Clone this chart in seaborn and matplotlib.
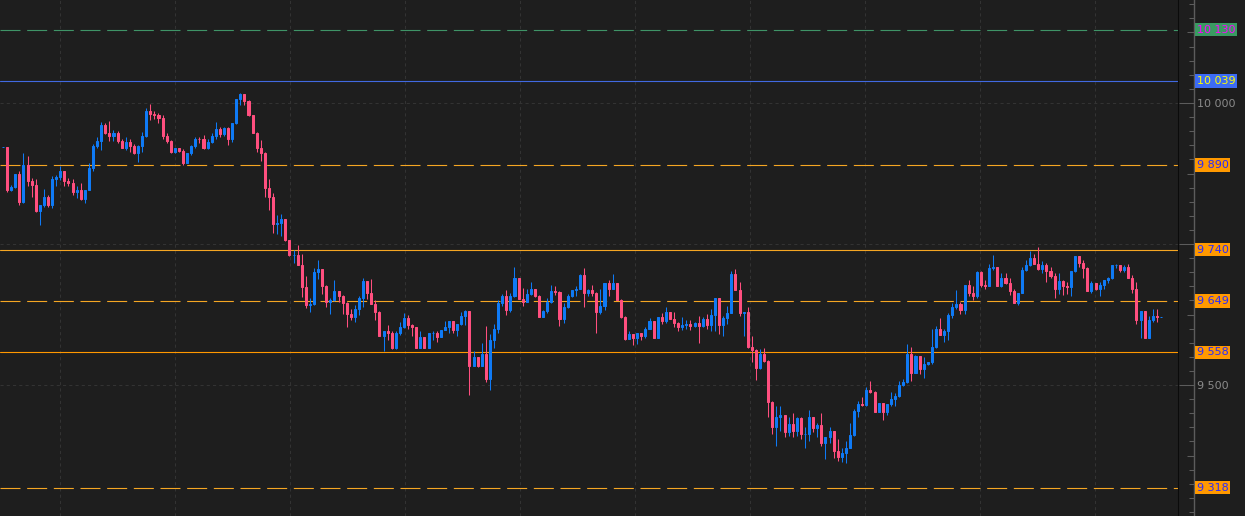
import numpy as np
import pandas as pd
import matplotlib
matplotlib.use("Agg")
import matplotlib.pyplot as plt
from matplotlib.ticker import MultipleLocator, FuncFormatter
import seaborn as sns

# candle data (open of each candle = previous close)
first_open = 9922
close = [9922, 9845, 9851, 9874, 9825, 9890, 9861, 9855, 9809, 9819,
         9834, 9819, 9865, 9868, 9880, 9862, 9858, 9843, 9846, 9829,
         9846, 9885, 9923, 9933, 9961, 9946, 9942, 9946, 9933, 9921,
         9930, 9923, 9912, 9923, 9942, 9986, 9981, 9978, 9973, 9942,
         9933, 9914, 9920, 9915, 9894, 9911, 9923, 9937, 9936, 9920,
         9931, 9942, 9954, 9945, 9955, 9936, 9964, 10007, 10016, 10004,
         9978, 9947, 9921, 9912, 9850, 9834, 9786, 9787, 9794, 9757,
         9731, 9731, 9713, 9674, 9641, 9643, 9700, 9706, 9676, 9648,
         9651, 9667, 9658, 9646, 9626, 9621, 9635, 9654, 9685, 9664,
         9644, 9630, 9587, 9595, 9593, 9565, 9593, 9603, 9619, 9606,
         9602, 9566, 9585, 9566, 9592, 9593, 9586, 9598, 9603, 9613,
         9597, 9608, 9622, 9631, 9534, 9550, 9534, 9555, 9511, 9580,
         9600, 9646, 9658, 9633, 9658, 9690, 9652, 9648, 9662, 9670,
         9658, 9621, 9631, 9648, 9667, 9665, 9617, 9638, 9658, 9668,
         9671, 9695, 9664, 9668, 9664, 9630, 9640, 9680, 9671, 9680,
         9651, 9621, 9582, 9590, 9583, 9592, 9587, 9600, 9613, 9584,
         9621, 9613, 9630, 9617, 9610, 9603, 9606, 9609, 9605, 9610,
         9605, 9617, 9606, 9624, 9654, 9606, 9619, 9628, 9697, 9668,
         9628, 9629, 9567, 9562, 9531, 9555, 9543, 9470, 9426, 9443,
         9446, 9417, 9431, 9419, 9442, 9414, 9414, 9443, 9423, 9429,
         9398, 9407, 9418, 9383, 9372, 9380, 9389, 9411, 9454, 9467,
         9465, 9492, 9488, 9453, 9468, 9453, 9466, 9476, 9481, 9500,
         9505, 9555, 9522, 9551, 9528, 9537, 9540, 9568, 9599, 9589,
         9596, 9624, 9639, 9644, 9633, 9677, 9663, 9657, 9700, 9677,
         9676, 9708, 9710, 9676, 9690, 9680, 9667, 9646, 9664, 9704,
         9713, 9726, 9715, 9705, 9713, 9703, 9693, 9670, 9684, 9676,
         9673, 9702, 9729, 9717, 9708, 9667, 9680, 9671, 9678, 9686,
         9690, 9713, 9713, 9704, 9709, 9690, 9670, 9615, 9631, 9584,
         9615, 9622, 9621, 9621]
high = [9922, 9922, 9855, 9875, 9880, 9911, 9906, 9867, 9865, 9819,
        9848, 9837, 9871, 9872, 9888, 9880, 9867, 9865, 9853, 9858,
        9846, 9893, 9927, 9940, 9966, 9965, 9968, 9952, 9951, 9936,
        9939, 9937, 9928, 9926, 9949, 9992, 9999, 9985, 9982, 9979,
        9946, 9934, 9921, 9920, 9918, 9912, 9926, 9939, 9940, 9943,
        9936, 9946, 9967, 9957, 9957, 9958, 9965, 10007, 10017, 10016,
        10005, 9979, 9949, 9934, 9914, 9865, 9840, 9801, 9803, 9794,
        9757, 9739, 9748, 9732, 9693, 9655, 9708, 9722, 9706, 9677,
        9655, 9686, 9667, 9660, 9648, 9635, 9642, 9657, 9689, 9685,
        9688, 9650, 9631, 9596, 9606, 9595, 9595, 9612, 9628, 9624,
        9608, 9603, 9595, 9586, 9593, 9595, 9595, 9598, 9613, 9613,
        9613, 9608, 9630, 9633, 9631, 9561, 9550, 9574, 9605, 9590,
        9609, 9650, 9662, 9668, 9664, 9710, 9690, 9672, 9671, 9682,
        9670, 9660, 9633, 9655, 9677, 9675, 9667, 9646, 9662, 9669,
        9675, 9697, 9707, 9671, 9677, 9665, 9670, 9680, 9686, 9697,
        9680, 9652, 9622, 9595, 9590, 9592, 9592, 9603, 9618, 9613,
        9621, 9627, 9639, 9630, 9630, 9612, 9621, 9615, 9615, 9612,
        9622, 9621, 9626, 9634, 9654, 9654, 9622, 9640, 9702, 9706,
        9682, 9629, 9638, 9587, 9564, 9564, 9565, 9544, 9472, 9462,
        9462, 9447, 9443, 9450, 9444, 9444, 9425, 9456, 9443, 9432,
        9450, 9407, 9426, 9418, 9405, 9389, 9401, 9433, 9457, 9472,
        9479, 9497, 9507, 9489, 9468, 9468, 9466, 9488, 9485, 9507,
        9510, 9573, 9567, 9554, 9551, 9550, 9541, 9599, 9605, 9618,
        9599, 9627, 9645, 9668, 9648, 9677, 9687, 9676, 9702, 9702,
        9686, 9715, 9731, 9710, 9698, 9699, 9689, 9670, 9664, 9710,
        9722, 9738, 9732, 9744, 9719, 9716, 9709, 9698, 9698, 9687,
        9683, 9702, 9729, 9729, 9722, 9710, 9684, 9680, 9682, 9686,
        9692, 9713, 9715, 9713, 9713, 9715, 9695, 9683, 9631, 9631,
        9622, 9634, 9634, 9621]
low = [9922, 9843, 9844, 9850, 9819, 9822, 9852, 9834, 9806, 9783,
       9816, 9816, 9814, 9852, 9864, 9853, 9852, 9837, 9831, 9828,
       9822, 9845, 9880, 9921, 9916, 9945, 9932, 9932, 9929, 9921,
       9916, 9914, 9910, 9896, 9914, 9940, 9970, 9972, 9965, 9936,
       9929, 9912, 9912, 9914, 9890, 9893, 9908, 9921, 9929, 9918,
       9918, 9929, 9936, 9940, 9941, 9925, 9931, 9963, 9996, 9996,
       9977, 9946, 9914, 9897, 9834, 9811, 9769, 9768, 9764, 9755,
       9728, 9716, 9713, 9656, 9637, 9630, 9641, 9688, 9661, 9639,
       9626, 9649, 9648, 9626, 9603, 9615, 9612, 9625, 9639, 9652,
       9644, 9615, 9587, 9561, 9579, 9564, 9564, 9589, 9601, 9599,
       9587, 9566, 9566, 9566, 9566, 9579, 9577, 9586, 9597, 9593,
       9593, 9587, 9606, 9606, 9482, 9533, 9532, 9533, 9506, 9491,
       9565, 9593, 9640, 9624, 9630, 9656, 9652, 9640, 9648, 9659,
       9656, 9621, 9621, 9628, 9646, 9660, 9605, 9610, 9636, 9656,
       9657, 9670, 9639, 9657, 9658, 9592, 9626, 9633, 9658, 9671,
       9650, 9618, 9580, 9582, 9571, 9573, 9580, 9584, 9599, 9584,
       9584, 9608, 9610, 9617, 9603, 9596, 9598, 9599, 9597, 9603,
       9575, 9603, 9600, 9596, 9596, 9590, 9587, 9608, 9627, 9668,
       9622, 9587, 9565, 9540, 9509, 9528, 9541, 9444, 9413, 9392,
       9419, 9407, 9410, 9408, 9410, 9404, 9389, 9401, 9417, 9408,
       9392, 9368, 9397, 9370, 9366, 9364, 9362, 9389, 9410, 9444,
       9463, 9463, 9485, 9453, 9453, 9438, 9447, 9463, 9463, 9479,
       9499, 9504, 9508, 9521, 9520, 9513, 9535, 9537, 9566, 9588,
       9577, 9580, 9619, 9634, 9626, 9626, 9658, 9651, 9654, 9674,
       9670, 9676, 9704, 9675, 9674, 9679, 9660, 9645, 9641, 9664,
       9703, 9711, 9714, 9704, 9698, 9683, 9689, 9655, 9661, 9660,
       9661, 9658, 9700, 9709, 9690, 9666, 9664, 9668, 9658, 9670,
       9681, 9688, 9707, 9701, 9701, 9690, 9664, 9609, 9584, 9584,
       9584, 9611, 9611, 9621]

# price levels drawn across the chart and marked on the scale
levels = [10130, 10039, 9890, 9740, 9649, 9558, 9318]
level_dashed = [True, False, True, False, True, False, True]
level_line_colors = ["#3f9467", "#4169e1", "#f5a623", "#f5a623", "#f5a623", "#ff9800", "#f5a623"]
level_box_colors = ["#3a9a62", "#3d6cf5", "#ff9900", "#ff9900", "#ff9900", "#ff9900", "#ff9900"]
level_text_colors = ["#ff00ff", "#ffff00", "#2a2aff", "#2a2aff", "#2a2aff", "#2a2aff", "#2a2aff"]

BG = "#1e1e1e"
UP = "#0f7af5"
DOWN = "#ff4f7f"
GRID = "#333333"
SCALE = "#5c5c5c"

df = pd.DataFrame({"close": close, "high": high, "low": low})
df["open"] = df["close"].shift(1).fillna(first_open)
df["color"] = np.where(df["close"] >= df["open"], UP, DOWN)

sns.set_theme(style="dark", rc={"axes.facecolor": BG, "figure.facecolor": BG,
                                "savefig.facecolor": BG})
plt.rcParams["font.family"] = ["DejaVu Sans"]

W, H = 1245, 516
fig = plt.figure(figsize=(W / 100, H / 100), dpi=100)
ax = fig.add_axes([0, 0, 1179 / W, 1])
ax2 = fig.add_axes([1179 / W, 0, 15 / W, 1])

ymin, ymax = 9267.8, 10182.6
step = 1158 / (len(df) - 1)
xmin = -3 / step
xmax = xmin + 1179 / step

# grid
ax.yaxis.set_major_locator(MultipleLocator(250))
ax.xaxis.set_major_locator(MultipleLocator(28.1, offset=13.9))
ax.grid(True, color=GRID, ls=(0, (3, 3)), lw=0.75)
ax.set_axisbelow(True)

# level lines
for v, dashed, c in zip(levels, level_dashed, level_line_colors):
    ax.axhline(v, color=c, lw=0.8, ls=(0, (18, 6)) if dashed else "-", zorder=1)

# candles
ax.vlines(df.index, df["low"], df["high"], colors=df["color"], lw=0.75, zorder=2)
ax.bar(df.index, df["close"] - df["open"], bottom=df["open"], width=0.5,
       color=df["color"], edgecolor=df["color"], linewidth=0.72, zorder=3)

ax.set_xlim(xmin, xmax)
ax.set_ylim(ymin, ymax)
ax.tick_params(left=False, bottom=False, labelleft=False, labelbottom=False)
for s in ["left", "top", "bottom"]:
    ax.spines[s].set_visible(False)
ax.spines["right"].set_visible(True)
ax.spines["right"].set_color("#0b0b0b")
ax.spines["right"].set_linewidth(1.5)


def fmt(v):
    return f"{v:,.0f}".replace(",", " ")


# price scale
ax2.set_facecolor(BG)
ax2.set_ylim(ymin, ymax)
ax2.set_xlim(0, 1)
ax2.xaxis.set_visible(False)
for s in ["left", "top", "bottom"]:
    ax2.spines[s].set_visible(False)
ax2.spines["right"].set_visible(True)
ax2.spines["right"].set_color(SCALE)
ax2.spines["right"].set_linewidth(1)
ax2.yaxis.tick_right()
ax2.yaxis.set_major_locator(MultipleLocator(250))
ax2.yaxis.set_minor_locator(MultipleLocator(25))
ax2.yaxis.set_major_formatter(FuncFormatter(lambda v, p: fmt(v) if v % 500 == 0 else ""))
ax2.tick_params(axis="y", which="major", direction="in", length=10.5, width=0.75,
                color=SCALE, labelcolor="#8a8a8a", labelsize=8, pad=2)
ax2.tick_params(axis="y", which="minor", direction="in", length=3.6, width=0.75, color=SCALE)
mids = np.arange(9375, ymax, 250)
ax2.hlines(mids, 1 - 7 / 15, 1, transform=ax2.get_yaxis_transform(), color=SCALE, lw=0.75)

for v, bc, tc in zip(levels, level_box_colors, level_text_colors):
    ax2.text(1 + 2.6 / 15, v, fmt(v), transform=ax2.get_yaxis_transform(),
             ha="left", va="center", fontsize=8, color=tc, clip_on=False, zorder=5,
             bbox=dict(boxstyle="square,pad=0.15", fc=bc, ec="none"))

fig.savefig("out.png", dpi=100, facecolor=BG)
